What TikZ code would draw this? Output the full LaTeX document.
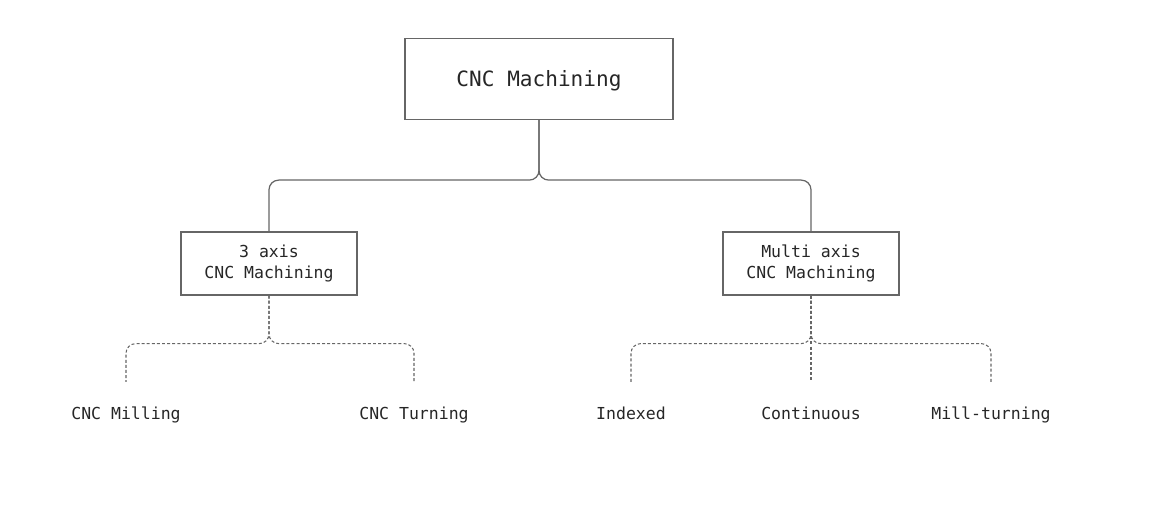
\documentclass[tikz,border=0pt]{standalone}
\usepackage{fontspec}
\setmonofont{DejaVu Sans Mono}
\usepackage[HTML]{xcolor}
\usepackage{tikz}
\usetikzlibrary{positioning}

\definecolor{linegray}{HTML}{666666}
\definecolor{textgray}{HTML}{262626}

\tikzset{
  rootbox/.style={draw=linegray, line width=0.7pt, minimum width=5.36cm, minimum height=1.62cm,
    font=\ttfamily\fontsize{12}{14}\selectfont, text=textgray, text depth=1pt},
  axisbox/.style={draw=linegray, line width=0.7pt, minimum width=3.52cm, minimum height=1.26cm,
    align=center, font=\ttfamily\fontsize{9.4}{12}\selectfont, text=textgray},
  leaf/.style={font=\ttfamily\fontsize{9.4}{12}\selectfont, text=textgray, anchor=base,
    text height=7pt, text depth=2pt, inner sep=0pt},
  solidlink/.style={draw=linegray, line width=0.7pt, rounded corners=5.5pt},
  dashlink/.style={draw=linegray, line width=0.6pt, rounded corners=5.5pt,
    dash pattern=on 1.7pt off 1.2pt, shorten >=14.5pt}
}

\begin{document}
\begin{tikzpicture}[x=0.02cm, y=-0.02cm]
\useasboundingbox (0,0) rectangle (1150,506);
\clip (0,0) rectangle (1150,422.5);
% boxes
\node[rootbox] (cnc) at (539,79) {CNC Machining};
\node[axisbox] (three) at (269,263.5) {3 axis\\CNC Machining};
\node[axisbox] (multi) at (811,263.5) {Multi axis\\CNC Machining};
% leaves
\node[leaf] (milling) at (126,420) {CNC Milling};
\node[leaf] (turning) at (414,420) {CNC Turning};
\node[leaf] (indexed) at (631,420) {Indexed};
\node[leaf] (contin) at (811,420) {Continuous};
\node[leaf] (millturn) at (991,420) {Mill-turning};
% links
\draw[solidlink] (cnc.south) -- ++(0,60) -| (three.north);
\draw[solidlink] (cnc.south) -- ++(0,60) -| (multi.north);
\draw[dashlink] (three.south) -- ++(0,48) -| (milling.north);
\draw[dashlink] (three.south) -- ++(0,48) -| (turning.north);
\draw[dashlink] (multi.south) -- ++(0,48) -| (indexed.north);
\draw[dashlink] (multi.south) -- (contin.north);
\draw[dashlink] (multi.south) -- ++(0,48) -| (millturn.north);
\end{tikzpicture}
\end{document}
